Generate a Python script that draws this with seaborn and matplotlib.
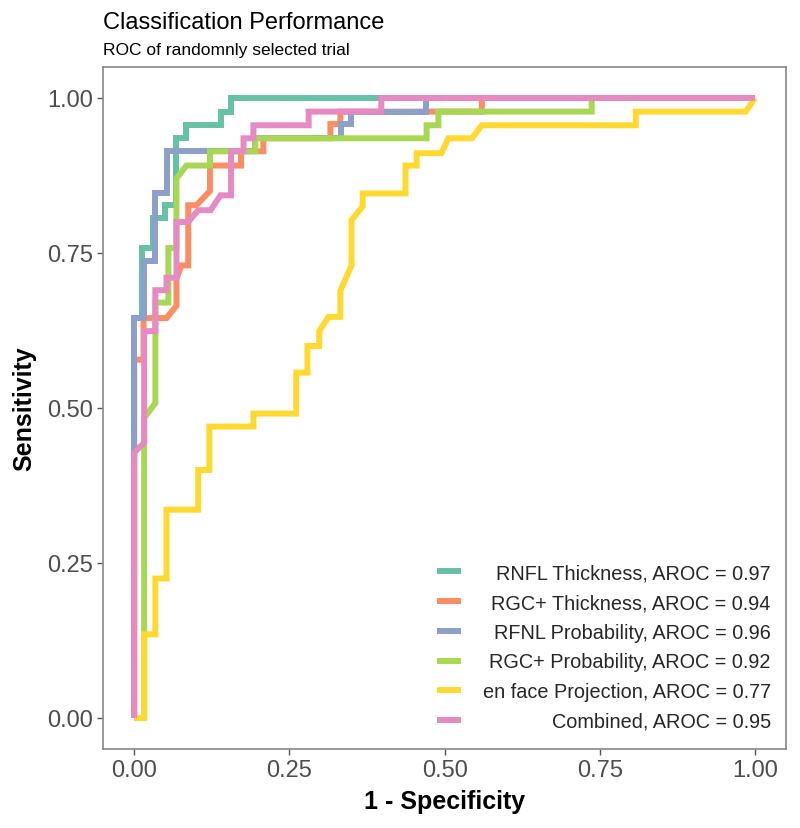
import numpy as np
import pandas as pd
import matplotlib
matplotlib.use("Agg")
import matplotlib.pyplot as plt
from matplotlib.lines import Line2D
import seaborn as sns

# ---- data (1 - specificity, sensitivity) ----
series_names = [
    "RNFL Thickness, AROC = 0.97",
    "RGC+ Thickness, AROC = 0.94",
    "RFNL Probability, AROC = 0.96",
    "RGC+ Probability, AROC = 0.92",
    "en face Projection, AROC = 0.77",
    "Combined, AROC = 0.95",
]
series_colors = ["#66C2A5", "#FC8D62", "#8DA0CB", "#A6D854", "#FFD92F", "#E78AC3"]

rnfl_fpr = [0, 0, 0.013, 0.013, 0.031, 0.031, 0.05, 0.05, 0.068, 0.068, 0.084, 0.084, 0.139, 0.139, 0.156, 0.156, 1.0]
rnfl_tpr = [0, 0.645, 0.645, 0.758, 0.758, 0.806, 0.806, 0.827, 0.827, 0.935, 0.935, 0.956, 0.956, 0.978, 0.978, 1.0, 1.0]

rgct_fpr = [0, 0, 0.015, 0.015, 0.052, 0.068, 0.068, 0.076, 0.087, 0.087, 0.1, 0.122, 0.122, 0.172, 0.172, 0.208, 0.208, 0.316, 0.316, 0.332, 0.332, 0.56, 0.56, 1.0]
rgct_tpr = [0, 0.578, 0.578, 0.645, 0.645, 0.665, 0.708, 0.73, 0.73, 0.827, 0.827, 0.85, 0.891, 0.891, 0.914, 0.914, 0.935, 0.935, 0.958, 0.958, 0.978, 0.978, 1.0, 1.0]

rfnl_fpr = [0, 0, 0.015, 0.015, 0.034, 0.034, 0.052, 0.052, 0.195, 0.195, 0.333, 0.333, 0.35, 0.35, 0.47, 0.47, 1.0]
rfnl_tpr = [0, 0.645, 0.645, 0.737, 0.737, 0.846, 0.846, 0.914, 0.914, 0.935, 0.935, 0.958, 0.958, 0.978, 0.978, 1.0, 1.0]

rgcp_fpr = [0, 0.016, 0.016, 0.034, 0.034, 0.055, 0.055, 0.068, 0.068, 0.084, 0.122, 0.122, 0.195, 0.195, 0.471, 0.471, 0.49, 0.49, 0.737, 0.737, 1.0]
rgcp_tpr = [0, 0, 0.484, 0.508, 0.67, 0.67, 0.758, 0.758, 0.87, 0.891, 0.891, 0.914, 0.914, 0.935, 0.935, 0.956, 0.956, 0.978, 0.978, 1.0, 1.0]

enface_fpr = [0, 0.016, 0.016, 0.034, 0.034, 0.052, 0.052, 0.103, 0.103, 0.121, 0.121, 0.192, 0.192, 0.261, 0.261, 0.279, 0.279, 0.298, 0.298, 0.313, 0.332, 0.332, 0.350, 0.350, 0.368, 0.368, 0.437, 0.437, 0.455, 0.455, 0.495, 0.506, 0.544, 0.56, 0.808, 0.808, 0.985, 1.0]
enface_tpr = [0, 0, 0.135, 0.135, 0.225, 0.225, 0.336, 0.336, 0.40, 0.40, 0.47, 0.47, 0.491, 0.491, 0.557, 0.557, 0.60, 0.60, 0.624, 0.647, 0.647, 0.689, 0.73, 0.803, 0.825, 0.846, 0.846, 0.891, 0.891, 0.911, 0.911, 0.935, 0.935, 0.956, 0.956, 0.978, 0.978, 1.0]

comb_fpr = [0, 0, 0.016, 0.016, 0.034, 0.034, 0.052, 0.052, 0.068, 0.068, 0.087, 0.103, 0.123, 0.139, 0.156, 0.156, 0.176, 0.176, 0.192, 0.192, 0.281, 0.281, 0.398, 0.398, 1.0]
comb_tpr = [0, 0.428, 0.444, 0.624, 0.624, 0.69, 0.69, 0.71, 0.71, 0.80, 0.80, 0.819, 0.819, 0.843, 0.843, 0.914, 0.914, 0.935, 0.935, 0.956, 0.956, 0.978, 0.978, 1.0, 1.0]

x_ticks = [0.00, 0.25, 0.50, 0.75, 1.00]
y_ticks = [0.00, 0.25, 0.50, 0.75, 1.00]
tick_labels = ["0.00", "0.25", "0.50", "0.75", "1.00"]

curves = [
    (rnfl_fpr, rnfl_tpr),
    (rgct_fpr, rgct_tpr),
    (rfnl_fpr, rfnl_tpr),
    (rgcp_fpr, rgcp_tpr),
    (enface_fpr, enface_tpr),
    (comb_fpr, comb_tpr),
]

sns.set_theme(style="white")
plt.rcParams["font.family"] = ["Liberation Sans", "DejaVu Sans"]

fig = plt.figure(figsize=(8.0, 8.29), dpi=100)
ax = fig.add_axes([0.129, 0.0953, 0.9825 - 0.129, 0.918 - 0.0953])

LW = 4.3
for name, (fx, fy), col in zip(series_names, curves, series_colors):
    d = pd.DataFrame({"fpr": fx, "tpr": fy})
    sns.lineplot(data=d, x="fpr", y="tpr", sort=False, estimator=None,
                 color=col, linewidth=LW, ax=ax, legend=False)
for ln in ax.get_lines():
    ln.set_solid_joinstyle("miter")
    ln.set_solid_capstyle("butt")

ax.set_xlim(-0.05, 1.05)
ax.set_ylim(-0.05, 1.05)
ax.set_xticks(x_ticks)
ax.set_xticklabels(tick_labels)
ax.set_yticks(y_ticks)
ax.set_yticklabels(tick_labels)
ax.tick_params(axis="both", which="major", length=4, width=1, color="#555555",
               labelsize=17, labelcolor="#4D4D4D", pad=3, direction="out",
               bottom=True, left=True)
for sp in ax.spines.values():
    sp.set_color("#888888")
    sp.set_linewidth(1.2)
ax.grid(False)

ax.set_xlabel("1 - Specificity", fontsize=18, fontweight="bold", color="black", labelpad=6)
ax.set_ylabel("Sensitivity", fontsize=18, fontweight="bold", color="black", labelpad=8)

fig.text(0.129, 1 - 29 / 829, "Classification Performance", fontsize=17,
         ha="left", va="baseline", color="black")
fig.text(0.129, 1 - 55 / 829, "ROC of randomnly selected trial", fontsize=12.5,
         ha="left", va="baseline", color="black")

handles = [Line2D([], [], color=c, linewidth=LW, solid_capstyle="butt") for c in series_colors]
leg = ax.legend(handles, series_names, loc="lower right",
                bbox_to_anchor=(0.995, 0.009), frameon=False, fontsize=14.3,
                handlelength=1.2, handletextpad=1.1, labelspacing=0.54,
                borderaxespad=0.2)

fig.canvas.draw()
renderer = fig.canvas.get_renderer()
widths = [t.get_window_extent(renderer).width for t in leg.get_texts()]
shift = max(widths)
for t, w in zip(leg.get_texts(), widths):
    t.set_position((shift - w, 0))

fig.savefig("out.png", dpi=100)
